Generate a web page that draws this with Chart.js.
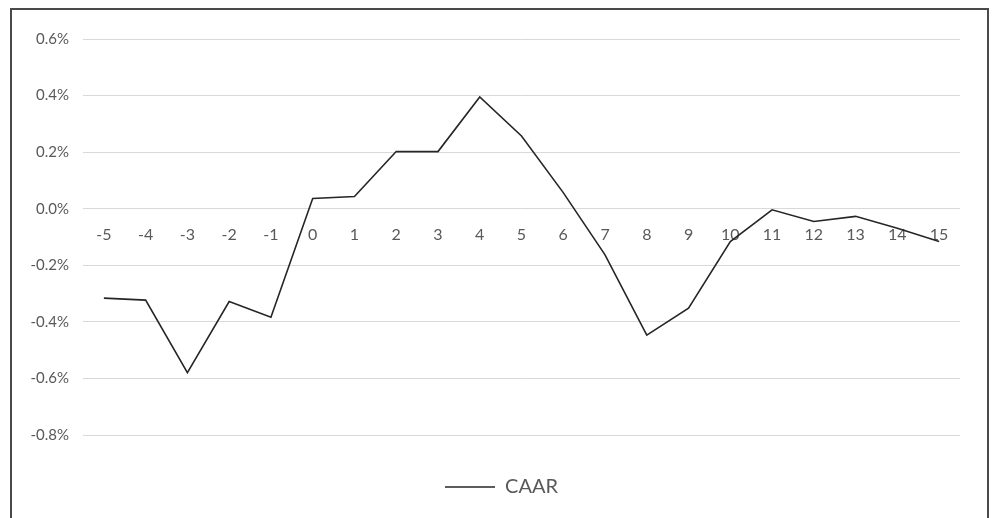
<!DOCTYPE html>
<html>
<head>
<meta charset="utf-8">
<script src="https://cdn.jsdelivr.net/npm/chart.js@4/dist/chart.umd.min.js"></script>
<style>
  html, body { margin: 0; padding: 0; background: #ffffff; }
  #wrap { position: relative; width: 996px; height: 518px; overflow: hidden; }
  #frame { position: absolute; left: 10px; top: 8px; width: 975px; height: 540px; border: 2px solid #4a4a4a; box-sizing: content-box; }
  canvas { position: absolute; left: 0; top: 0; }
</style>
</head>
<body>
<div id="wrap">
  <div id="frame"></div>
  <canvas id="chart" width="996" height="507"></canvas>
</div>
<script>
// Event days relative to the announcement
const eventDays = ['-5','-4','-3','-2','-1','0','1','2','3','4','5','6','7','8','9','10','11','12','13','14','15'];
// Cumulative average abnormal return, in percent
const caar = [-0.316, -0.323, -0.580, -0.328, -0.384, 0.036, 0.043, 0.202, 0.202, 0.395, 0.257,
              0.057, -0.163, -0.447, -0.352, -0.116, -0.004, -0.045, -0.027, -0.069, -0.116];
// Value axis range and step, in percent
const yMin = -0.8;
const yMax = 0.6;
const yStep = 0.2;

const labelColor = '#595959';
const fontFamily = 'Lato, "Open Sans", sans-serif';

// Percent label with one decimal; avoids a "-0.0%" from float noise
const fmtPct = (v) => {
  const r = Math.round(v * 10) / 10;
  return (r === 0 ? 0 : r).toFixed(1) + '%';
};

new Chart(document.getElementById('chart'), {
  type: 'line',
  data: {
    labels: eventDays,
    datasets: [{
      label: 'CAAR',
      data: caar,
      yAxisID: 'y',
      borderColor: '#262626',
      backgroundColor: '#262626',
      borderWidth: 1.6,
      pointRadius: 0,
      tension: 0,
      fill: false
    }]
  },
  options: {
    responsive: false,
    animation: false,
    layout: { padding: { top: 39, left: 7, right: 0, bottom: 0 } },
    plugins: {
      tooltip: { enabled: false },
      legend: {
        position: 'bottom',
        labels: {
          usePointStyle: true,
          pointStyle: 'line',
          pointStyleWidth: 50,
          boxHeight: 2,
          color: labelColor,
          font: { family: fontFamily, size: 20 },
          padding: 42
        }
      }
    },
    scales: {
      x: {
        type: 'category',
        offset: true,
        position: { y: 0 },
        afterFit: (scale) => { scale.height = 0; },
        grid: { display: false, drawTicks: false },
        border: { display: false },
        ticks: {
          color: labelColor,
          font: { family: fontFamily, size: 16 },
          padding: 17,
          maxRotation: 0,
          autoSkip: false
        }
      },
      y: {
        min: yMin,
        max: yMax,
        afterFit: (scale) => { scale.width = 76; },
        grid: { color: '#d9d9d9', lineWidth: 1, drawTicks: false },
        border: { display: false },
        ticks: {
          stepSize: yStep,
          color: labelColor,
          font: { family: fontFamily, size: 15 },
          padding: 14,
          callback: fmtPct
        }
      },
      // Empty right-hand margin of the plot
      yRight: {
        position: 'right',
        min: yMin,
        max: yMax,
        afterFit: (scale) => { scale.width = 36; },
        grid: { display: false, drawTicks: false },
        border: { display: false },
        ticks: { display: false }
      }
    }
  }
});
</script>
</body>
</html>
